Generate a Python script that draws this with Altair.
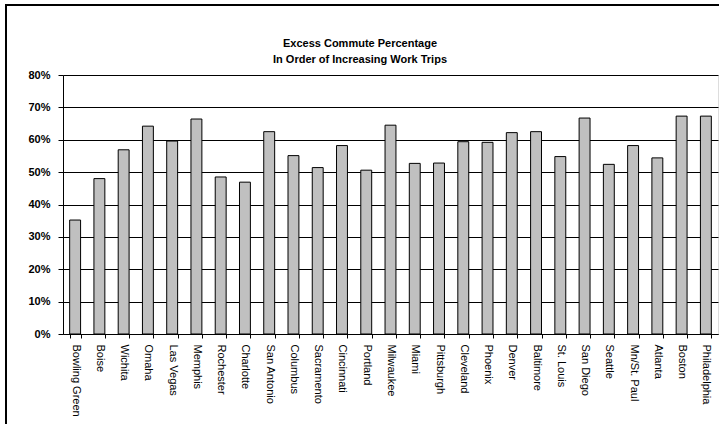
import altair as alt
import pandas as pd

cities = ["Bowling Green", "Boise", "Wichita", "Omaha", "Las Vegas", "Memphis",
          "Rochester", "Charlotte", "San Antonio", "Columbus", "Sacramento",
          "Cincinnati", "Portland", "Milwaukee", "Miami", "Pittsburgh",
          "Cleveland", "Phoenix", "Denver", "Baltimore", "St. Louis",
          "San Diego", "Seattle", "Mn/St. Paul", "Atlanta", "Boston",
          "Philadelphia"]
excess = [0.352, 0.480, 0.569, 0.642, 0.596, 0.664, 0.485, 0.469, 0.625,
          0.551, 0.514, 0.582, 0.506, 0.645, 0.527, 0.528, 0.594, 0.592,
          0.622, 0.625, 0.548, 0.667, 0.524, 0.582, 0.544, 0.673, 0.673]
title_lines = ["Excess Commute Percentage", "In Order of Increasing Work Trips"]

df = pd.DataFrame({"city": cities, "excess": excess})
FONT = "Liberation Sans"

bars = alt.Chart(df).mark_bar(
    fill="#C0C0C0", stroke="black", strokeWidth=1
).encode(
    x=alt.X("city:N", sort=cities,
            scale=alt.Scale(paddingInner=0.55, paddingOuter=0.275),
            axis=alt.Axis(title=None, labelAngle=90, labelFont=FONT,
                          labelFontSize=11, labelColor="black",
                          labelPadding=6, tickBand="extent", tickSize=4,
                          tickColor="black", domainColor="black",
                          labelOverlap=False, labelLimit=200)),
    y=alt.Y("excess:Q",
            scale=alt.Scale(domain=[0, 0.8], nice=False),
            axis=alt.Axis(title=None, format=".0%", values=[0, .1, .2, .3, .4, .5, .6, .7, .8],
                          labelFont=FONT, labelFontSize=11, labelFontWeight="bold",
                          labelColor="black", labelPadding=8, tickSize=5,
                          tickColor="black", domainColor="black",
                          gridColor="black", gridWidth=1, gridOpacity=1)),
)

frame = alt.Chart(df).mark_rect(
    fill=None, stroke="black", strokeWidth=1.5
).encode(
    x=alt.value(-57), x2=alt.value(700),
    y=alt.value(-70), y2=alt.value(400),
)

title1 = alt.Chart(df).transform_filter("datum.city == 'Boise'").mark_text(
    font=FONT, fontSize=11, fontWeight="bold", color="black",
    align="center", baseline="middle"
).encode(x=alt.value(297), y=alt.value(-31), text=alt.value(title_lines[0]))

title2 = alt.Chart(df).transform_filter("datum.city == 'Boise'").mark_text(
    font=FONT, fontSize=11, fontWeight="bold", color="black",
    align="center", baseline="middle"
).encode(x=alt.value(297), y=alt.value(-15), text=alt.value(title_lines[1]))

chart = alt.layer(bars, frame, title1, title2).properties(
    width=655, height=259,
    autosize=alt.AutoSizeParams(type="none"),
    padding={"left": 63, "top": 75, "right": 1, "bottom": 90},
).configure_view(
    stroke="#808080", strokeWidth=1
).configure(background="white")

chart.save("out.html", embed_options={"renderer": "svg", "actions": False})
